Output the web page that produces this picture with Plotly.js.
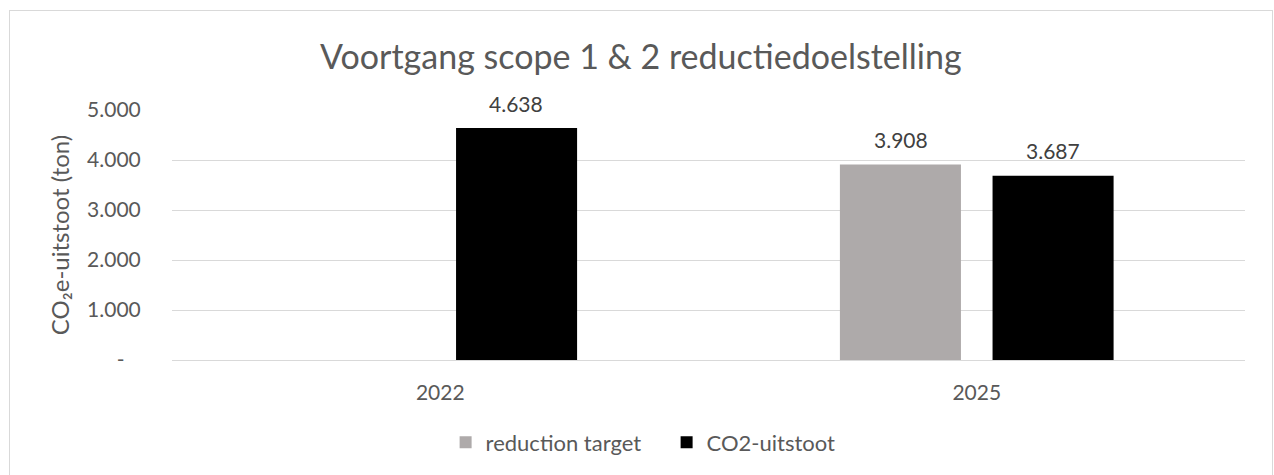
<!DOCTYPE html>
<html>
<head>
<meta charset="utf-8">
<script src="https://cdn.plot.ly/plotly-3.0.1.min.js"></script>
<style>
  html, body { margin: 0; padding: 0; overflow: hidden; background: #fff; }
  #chart { width: 1274px; height: 475px; position: absolute; left: 0; top: 0; }
  #frame { position: absolute; left: 9px; top: 10px; width: 1262px; height: 480px;
           border: 1px solid #d9d9d9; pointer-events: none; }
</style>
</head>
<body>
<div id="chart"></div>
<div id="frame"></div>
<script>
// ---- data ----
const categories = ['2022', '2025'];
const reductionTarget = [null, 3908];
const co2Uitstoot = [4638, 3687];
const seriesNames = ['reduction target', 'CO2-uitstoot'];
const yTickVals = [0, 1000, 2000, 3000, 4000, 5000];
const yTickText = ['-\u00a0\u00a0\u00a0', '1.000', '2.000', '3.000', '4.000', '5.000'];
const chartTitle = 'Voortgang scope 1 & 2 reductiedoelstelling';
const yTitle = 'CO\u2082e-uitstoot (ton)';

const FONT = 'Lato, "Noto Sans", sans-serif';
const TXT = '#595959';

function fmt(v) {
  return String(v).replace(/\B(?=(\d{3})+(?!\d))/g, '.');
}

const traces = [
  { type: 'bar', name: seriesNames[0], x: categories, y: reductionTarget,
    marker: { color: '#AEAAAA' }, hoverinfo: 'skip' },
  { type: 'bar', name: seriesNames[1], x: categories, y: co2Uitstoot,
    marker: { color: '#000000' }, hoverinfo: 'skip' }
];

const annotations = [];
[[reductionTarget, -76], [co2Uitstoot, 76]].forEach(([arr, shift]) => {
  arr.forEach((v, i) => {
    if (v === null) return;
    annotations.push({ x: i, y: v, xref: 'x', yref: 'y',
      text: fmt(v), showarrow: false, xshift: shift, yshift: 25,
      yanchor: 'middle', font: { family: FONT, size: 21, color: '#404040' } });
  });
});

const layout = {
  width: 1274, height: 475,
  margin: { l: 172, r: 29, t: 110, b: 113 },
  paper_bgcolor: '#fff', plot_bgcolor: '#fff',
  font: { family: FONT, color: TXT, size: 21 },
  title: { text: chartTitle, font: { family: FONT, size: 34, color: TXT },
           x: 0.503, xref: 'container', xanchor: 'center',
           y: 1 - 57 / 475, yref: 'container', yanchor: 'middle' },
  barmode: 'group', bargap: 0.431, bargroupgap: 0.207,
  showlegend: true,
  legend: { orientation: 'h', x: 0.255, xanchor: 'left', y: -0.33, yanchor: 'middle',
            entrywidth: 176, font: { family: FONT, size: 22, color: TXT } },
  xaxis: { type: 'category', range: [-0.5, 1.5], autorange: false,
           showgrid: false, zeroline: false, showline: false,
           ticks: 'outside', ticklen: 14, tickcolor: 'rgba(0,0,0,0)',
           tickfont: { family: FONT, size: 21, color: TXT } },
  yaxis: { range: [0, 5000], autorange: false, tickvals: yTickVals, ticktext: yTickText,
           showgrid: true, gridcolor: '#d9d9d9', gridwidth: 1,
           zeroline: true, zerolinecolor: '#d9d9d9', zerolinewidth: 1, showline: false,
           ticks: 'outside', ticklen: 26, tickcolor: 'rgba(0,0,0,0)',
           tickfont: { family: FONT, size: 21, color: TXT },
           title: { text: yTitle, font: { family: FONT, size: 24, color: TXT }, standoff: 10 } },
  annotations: annotations
};

Plotly.newPlot('chart', traces, layout, { staticPlot: true, displayModeBar: false });
</script>
</body>
</html>
